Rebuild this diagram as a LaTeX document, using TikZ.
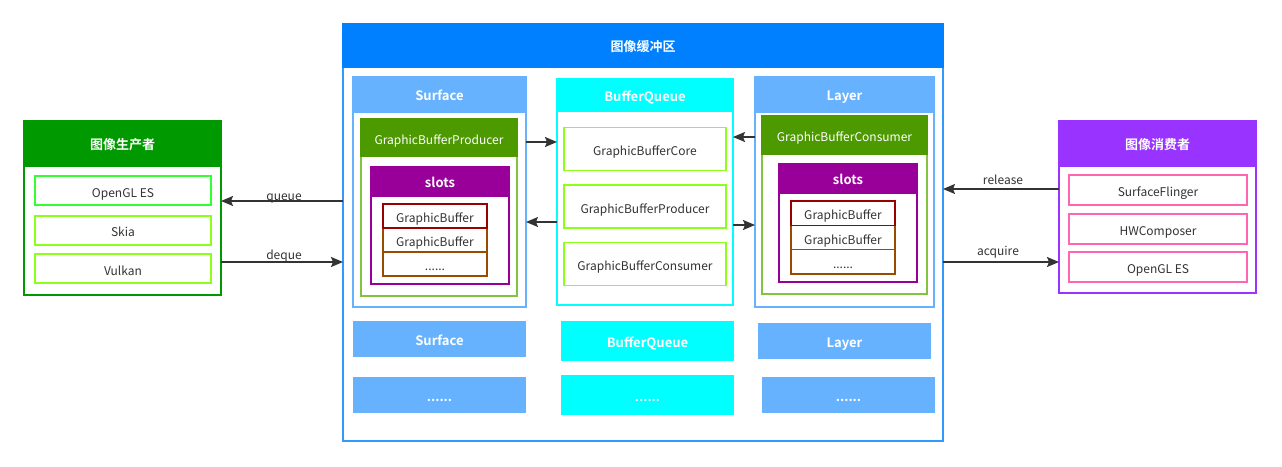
\documentclass[tikz,border=0pt]{standalone}
\usepackage{fontspec}
\setmainfont{Noto Sans CJK SC}[BoldFont={Noto Sans CJK SC Bold}]
\usetikzlibrary{arrows.meta}
\definecolor{bufhead}{HTML}{007FFF}
\definecolor{bufline}{HTML}{3399FF}
\definecolor{surfc}{HTML}{66B2FF}
\definecolor{bqc}{HTML}{00FFFF}
\definecolor{prodc}{HTML}{009900}
\definecolor{gbpc}{HTML}{4D9900}
\definecolor{gbpline}{HTML}{82C341}
\definecolor{slotc}{HTML}{990099}
\definecolor{gbfirst}{HTML}{990000}
\definecolor{gbrest}{HTML}{994C00}
\definecolor{consc}{HTML}{9933FF}
\definecolor{pinkc}{HTML}{FF66B2}
\definecolor{greenc}{HTML}{33FF33}
\definecolor{limec}{HTML}{8CFF1A}
\definecolor{txt}{HTML}{333333}

\begin{document}
\begin{tikzpicture}[x=1pt,y=-1pt]
	\tikzstyle{every node}=[inner sep=0pt, outer sep=0pt, text=txt, text height=13pt, text depth=0pt, font=\fontsize{12}{14}\selectfont]
	\tikzstyle{frame}=[draw, rectangle, line width=1.5pt, fill=white, anchor=north west]
	\tikzstyle{head}=[draw, rectangle, line width=1.5pt, anchor=north west, text=white, text height=12pt, font=\fontsize{13}{15}\selectfont\bfseries]
	\tikzstyle{subhead}=[draw, rectangle, line width=1.5pt, anchor=north west, text=white]
	\tikzstyle{item}=[draw, rectangle, line width=1.5pt, fill=white]
	\tikzstyle{tile}=[rectangle, anchor=north west, minimum width=173, text=white, text height=12pt, font=\fontsize{13}{15}\selectfont\bfseries]
	\tikzstyle{flow}=[draw=txt, line width=1.5pt, -{Stealth[length=12pt,width=10pt,inset=2pt]}]
	\useasboundingbox (0,0) rectangle (1282,466);

	% buffer area
	\path (343,24) node[frame, draw=bufline, minimum width=600, minimum height=417] (buf) {};
	\path (buf.north west) node[head, fill=bufhead, draw=bufhead, minimum width=600, minimum height=43] (bufh) {图像缓冲区};

	% producer
	\path (24,121) node[frame, draw=prodc, minimum width=197, minimum height=174] (prod) {};
	\path (prod.north west) node[head, fill=prodc, draw=prodc, minimum width=197, minimum height=45] (prodh) {图像生产者};
	\path (123,190.5) node[item, draw=greenc, minimum width=176, minimum height=29] (p1) {OpenGL ES};
	\path (123,230.3) node[item, draw=limec, minimum width=176, minimum height=29] (p2) {Skia};
	\path (123,268.5) node[item, draw=limec, minimum width=176, minimum height=29] (p3) {Vulkan};

	% surface
	\path (353,77) node[frame, draw=surfc, minimum width=173, minimum height=230] (surf) {};
	\path (surf.north west) node[head, fill=surfc, draw=surfc, minimum width=173, minimum height=35] (surfh) {Surface};
	\path (361,119) node[frame, draw=gbpline, minimum width=156, minimum height=177] (gbp) {};
	\path (gbp.north west) node[subhead, fill=gbpc, draw=gbpc, minimum width=156, minimum height=37] (gbph) {GraphicBufferProducer};
	\path (371,167) node[frame, draw=slotc, minimum width=138, minimum height=117] (slotl) {};
	\path (slotl.north west) node[head, fill=slotc, draw=slotc, minimum width=138, minimum height=29] (slotlh) {slots};
	\path (435,240) node[item, draw=gbrest, minimum width=104, minimum height=24] (gbl2) {GraphicBuffer};
	\path (435,264) node[item, draw=gbrest, minimum width=104, minimum height=24] (gbl3) {......};
	\path (435,216) node[item, draw=gbfirst, minimum width=104, minimum height=24] (gbl1) {GraphicBuffer};

	% buffer queue
	\path (557,79) node[frame, draw=bqc, minimum width=176, minimum height=226] (bq) {};
	\path (bq.north west) node[head, fill=bqc, draw=bqc, minimum width=176, minimum height=32] (bqh) {BufferQueue};
	\path (645,149) node[item, draw=limec, minimum width=162, minimum height=43] (bq1) {GraphicBufferCore};
	\path (645,206.7) node[item, draw=limec, minimum width=162, minimum height=43] (bq2) {GraphicBufferProducer};
	\path (645,264) node[item, draw=limec, minimum width=162, minimum height=43] (bq3) {GraphicBufferConsumer};

	% layer
	\path (755,77) node[frame, draw=surfc, minimum width=179, minimum height=230] (layer) {};
	\path (layer.north west) node[head, fill=surfc, draw=surfc, minimum width=179, minimum height=35] (layerh) {Layer};
	\path (762,116) node[frame, draw=gbpline, minimum width=165, minimum height=178] (gbc) {};
	\path (gbc.north west) node[subhead, fill=gbpc, draw=gbpc, minimum width=165, minimum height=38] (gbch) {GraphicBufferConsumer};
	\path (779,164) node[frame, draw=slotc, minimum width=138, minimum height=118] (slotr) {};
	\path (slotr.north west) node[head, fill=slotc, draw=slotc, minimum width=138, minimum height=29] (slotrh) {slots};
	\path (843,237.5) node[item, draw=gbrest, minimum width=104, minimum height=24.5] (gbr2) {GraphicBuffer};
	\path (843,261.5) node[item, draw=gbrest, minimum width=104, minimum height=24.5] (gbr3) {......};
	\path (843,213) node[item, draw=gbfirst, minimum width=104, minimum height=24.5] (gbr1) {GraphicBuffer};

	% more of them
	\path (353,321) node[tile, fill=surfc, minimum height=36] (surf2) {Surface};
	\path (561,321) node[tile, fill=bqc, minimum height=40] (bq2t) {BufferQueue};
	\path (758,323) node[tile, fill=surfc, minimum height=36] (layer2) {Layer};
	\path (353,377) node[tile, fill=surfc, minimum height=36] (surf3) {......};
	\path (561,375) node[tile, fill=bqc, minimum height=40] (bq3t) {......};
	\path (762,377) node[tile, fill=surfc, minimum height=36] (layer3) {......};

	% consumer
	\path (1059,121) node[frame, draw=consc, minimum width=197, minimum height=172] (cons) {};
	\path (cons.north west) node[head, fill=consc, draw=consc, minimum width=197, minimum height=45] (consh) {图像消费者};
	\path (1158,190) node[item, draw=pinkc, minimum width=178, minimum height=30] (c1) {SurfaceFlinger};
	\path (1158,229) node[item, draw=pinkc, minimum width=178, minimum height=30] (c2) {HWComposer};
	\path (1158,267) node[item, draw=pinkc, minimum width=178, minimum height=30] (c3) {OpenGL ES};

	% connectors
	\draw[flow] (buf.west |- 0,201) -- (prod.east |- 0,201);
	\draw[flow] (prod.east |- 0,262) -- (buf.west |- 0,262);
	\draw[flow] (surf.east |- 0,142) -- (bq.west |- 0,142);
	\draw[flow] (bq.west |- 0,222) -- (surf.east |- 0,222);
	\draw[flow] (layer.west |- 0,137) -- (bq.east |- 0,137);
	\draw[flow] (bq.east |- 0,225) -- (layer.west |- 0,225);
	\draw[flow] (cons.west |- 0,189) -- (buf.east |- 0,189);
	\draw[flow] (buf.east |- 0,262) -- (cons.west |- 0,262);
	\path (284,194) node (lq) {queue};
	\path (284,253) node (ld) {deque};
	\path (1003,178) node (lr) {release};
	\path (998,249) node (la) {acquire};
\end{tikzpicture}
\end{document}
